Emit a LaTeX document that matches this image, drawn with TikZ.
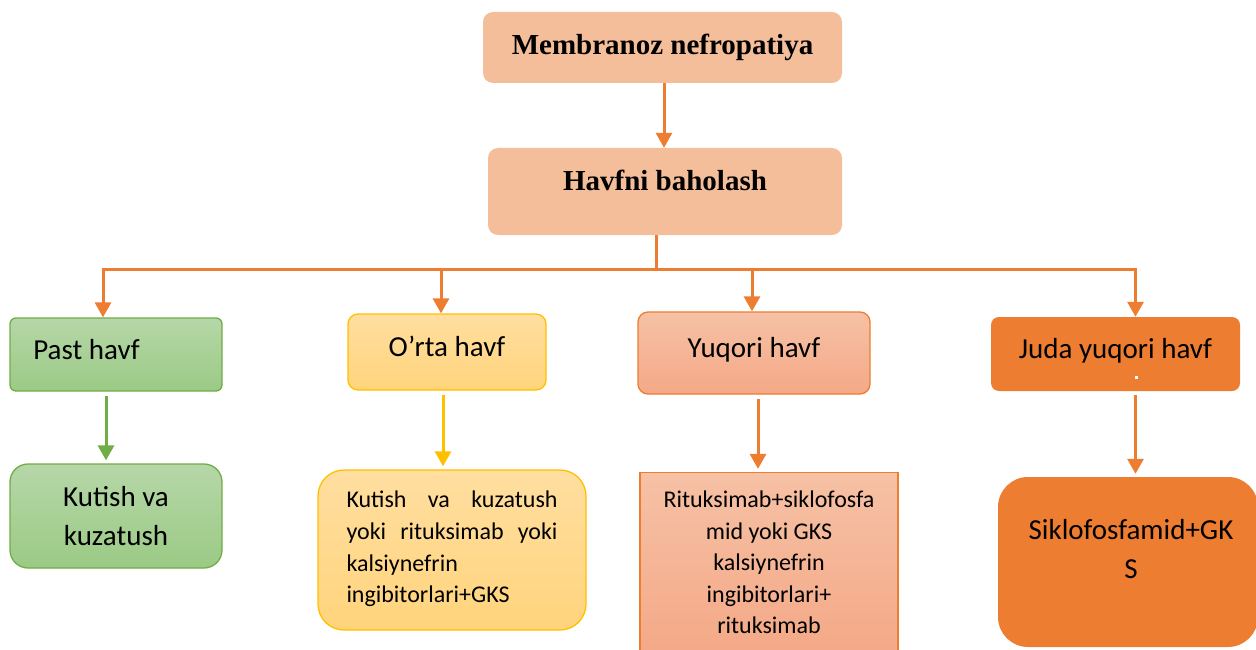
\documentclass[tikz,border=0pt]{standalone}
\usepackage{fontspec}
\setmainfont{Carlito}
\newfontfamily\titlefont{Liberation Serif}
\usetikzlibrary{arrows.meta}

\definecolor{peach}{HTML}{F5BE9A}
\definecolor{grnL}{HTML}{B6D7A8}
\definecolor{grnM}{HTML}{9BCA85}
\definecolor{grnD}{HTML}{70AD47}
\definecolor{ylwL}{HTML}{FFDEA0}
\definecolor{ylwM}{HTML}{FFD47C}
\definecolor{ylwD}{HTML}{FFC000}
\definecolor{slmL}{HTML}{F6C1A5}
\definecolor{slmM}{HTML}{F4A987}
\definecolor{orgD}{HTML}{ED7D31}

\begin{document}
\begin{tikzpicture}[x=1pt, y=-1pt]
			\tikzstyle{box}      = [inner sep=0pt, align=center, font=\fontsize{29}{39}\selectfont]
			\tikzstyle{boxT}     = [box, fill=peach, rounded corners=10pt, font=\titlefont\bfseries\fontsize{29}{35}\selectfont]
			\tikzstyle{boxA}     = [box, draw=grnD, top color=grnL, bottom color=grnM, line width=1.3pt]
			\tikzstyle{boxB}     = [box, draw=ylwD, top color=ylwL, bottom color=ylwM, line width=1.3pt]
			\tikzstyle{boxC}     = [box, draw=orgD, top color=slmL, bottom color=slmM, line width=1.3pt]
			\tikzstyle{boxD}     = [box, fill=orgD]
			\tikzstyle{head}     = [text height=19pt, text depth=10pt]
			\tikzstyle{smalltext} = [font=\fontsize{24}{31.6}\selectfont]
			\tikzstyle{arr}      = [-{Triangle[width=16pt,length=15pt]}, line width=3pt]

			\useasboundingbox (0,0) rectangle (1256,650);
			\clip (0,0) rectangle (1256,650);

			\node[boxT, minimum width=359pt, minimum height=71pt] (mem) at (662.5,47.5) {Membranoz nefropatiya};
			\node[boxT, minimum width=354pt, minimum height=87pt, text height=20pt, text depth=22pt] (hb) at (665,191.5) {Havfni baholash};

			\node[boxA, head, rounded corners=6pt, minimum width=212pt, minimum height=73pt] (past) at (116,354.5) {Past havf\hspace*{59pt}};
			\node[boxB, head, rounded corners=10pt, minimum width=198pt, minimum height=76pt] (orta) at (447,352) {O’rta havf};
			\node[boxC, head, rounded corners=10pt, minimum width=232pt, minimum height=82pt] (yuq) at (754,353) {Yuqori havf};
			\node[boxD, head, rounded corners=8pt, minimum width=249pt, minimum height=74pt] (juda) at (1115.5,354) {Juda yuqori havf};
			\fill[white] (1134.5,375.5) rectangle (1137.5,378.5);

			\node[boxA, rounded corners=18pt, minimum width=212pt, minimum height=104pt] (kut) at (116,516) {Kutish va\\kuzatush};
			\node[boxB, smalltext, rounded corners=26pt, minimum width=268pt, minimum height=160pt, text depth=6pt] (orta2) at (452,550) {\makebox[211pt][s]{Kutish va kuzatush}\\\makebox[211pt][s]{yoki rituksimab yoki}\\\makebox[211pt][l]{kalsiynefrin}\\\makebox[211pt][l]{ingibitorlari+GKS}};
			\node[boxC, smalltext, minimum width=258pt, minimum height=180pt] (yuq2) at (769,562.5) {Rituksimab+siklofosfa\\mid yoki GKS\\kalsiynefrin\\ingibitorlari+\\rituksimab};
			\node[boxD, rounded corners=30pt, minimum width=260pt, minimum height=170pt, text depth=26pt] (juda2) at (1128,562) {\hspace*{6pt}Siklofosfamid+GK\\\hspace*{6pt}S};

			\coordinate (bus) at (656,269);
			\draw[arr, orgD] ([xshift=1.5pt]mem.south) -- ([xshift=1.5pt]mem.south |- hb.north);
			\draw[orgD, line width=3pt] (hb.south -| bus) -- (bus);
			\draw[orgD, line width=3pt, line cap=rect] ([xshift=-13pt]past.north |- bus) -- ([xshift=20pt]juda.north |- bus);

			\foreach \to/\dx in {past/-13, orta/-6, yuq/-2, juda/20}
				\draw[arr, orgD] ([xshift=\dx pt]\to.north |- bus) -- ([xshift=\dx pt]\to.north);

			\foreach \from/\to/\dx/\col in {past/kut/-10/grnD, orta/orta2/-4/ylwD, yuq/yuq2/4/orgD, juda/juda2/20/orgD}
				\draw[arr, \col, shorten <=4pt, shorten >=3pt] ([xshift=\dx pt]\from.south) -- ([xshift=\dx pt]\from.south |- \to.north);

		\end{tikzpicture}
\end{document}
